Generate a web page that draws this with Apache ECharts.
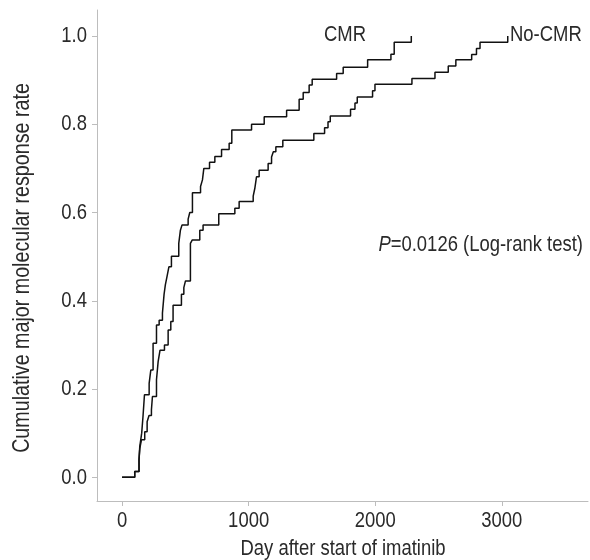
<!DOCTYPE html>
<html>
<head>
<meta charset="utf-8">
<script src="https://cdn.jsdelivr.net/npm/echarts@6/dist/echarts.min.js"></script>
<style>
html,body{margin:0;padding:0;background:#fff;}
#chart{width:590px;height:560px;}
</style>
</head>
<body>
<div id="chart"></div>
<script>
// Kaplan-Meier style cumulative response, step points (day, rate)
var cmrDays  = [0,100,134,140,150,155,166,177,214,227,245,272,293,319,332,342,355,370,390,448,461,474,522,535,556,620,635,646,691,733,786,846,867,1023,1123,1300,1399,1431,1478,1502,1695,1747,1940,2124,2150,2285];
var cmrRate  = [0,0.013,0.04,0.07,0.09,0.10,0.14,0.187,0.213,0.243,0.304,0.345,0.356,0.372,0.415,0.436,0.455,0.477,0.501,0.530,0.560,0.572,0.585,0.600,0.645,0.659,0.674,0.700,0.714,0.727,0.743,0.757,0.787,0.800,0.817,0.832,0.857,0.872,0.889,0.902,0.915,0.929,0.946,0.959,0.986,1.0];
var nocmrDays = [0,100,134,140,153,179,198,213,232,240,272,285,300,335,364,385,403,469,488,501,540,555,614,640,764,891,925,1036,1049,1062,1083,1154,1181,1195,1215,1270,1515,1600,1627,1645,1805,1840,1858,1979,1998,2290,2472,2577,2637,2762,2800,2828,3047];
var nocmrRate = [0,0.013,0.04,0.065,0.085,0.103,0.126,0.14,0.153,0.183,0.221,0.262,0.288,0.30,0.334,0.353,0.39,0.415,0.43,0.445,0.53,0.538,0.56,0.572,0.597,0.61,0.625,0.637,0.655,0.681,0.696,0.711,0.726,0.738,0.749,0.764,0.779,0.792,0.806,0.819,0.834,0.848,0.862,0.876,0.891,0.904,0.918,0.932,0.946,0.958,0.972,0.986,1.0];
var xTicks = [0,1000,2000,3000];
var yTicks = [0,0.2,0.4,0.6,0.8,1.0];
var xTitle = 'Day after start of imatinib';
var yTitle = 'Cumulative major molecular response rate';
var seriesNames = ['CMR','No-CMR'];
var pText = '=0.0126 (Log-rank test)';

function pairs(xs, ys){ return xs.map(function(x,i){ return [x, ys[i]]; }); }

// Pick a narrow (Helvetica-Condensed-like) face; otherwise squeeze Liberation Sans.
function hasFont(f){
  var c = document.createElement('canvas').getContext('2d');
  var s = 'abcdefghijklmnopqrstuvwxyz0123456789';
  c.font = '40px monospace'; var a = c.measureText(s).width;
  c.font = '40px "' + f + '", monospace'; var b = c.measureText(s).width;
  return Math.abs(a - b) > 0.5;
}
var narrow = hasFont('Liberation Sans Narrow');
var FONT = narrow ? '"Liberation Sans Narrow"' : '"Liberation Sans", Arial, sans-serif';
var SX = narrow ? 1 : 0.82;
var FS = 22.5;
var axisGrey = '#bdbdbd';
var textCol = '#2a2a2a';

var chart = echarts.init(document.getElementById('chart'), null, {renderer:'canvas'});
var baseOption = {
  animation:false,
  backgroundColor:'#fff',
  grid:{left:97, top:10, right:2, bottom:59, containLabel:false},
  xAxis:{
    type:'value', min:-198, max:3681,
    axisLine:{show:true, onZero:false, lineStyle:{color:axisGrey, width:1}},
    axisTick:{show:true, length:5, lineStyle:{color:axisGrey}, customValues:xTicks},
    axisLabel:{show:false},
    splitLine:{show:false}
  },
  yAxis:{
    type:'value', min:-0.0537, max:1.059,
    axisLine:{show:true, onZero:false, lineStyle:{color:axisGrey, width:1}},
    axisTick:{show:true, length:5, lineStyle:{color:axisGrey}, customValues:yTicks},
    axisLabel:{show:false},
    splitLine:{show:false}
  },
  series:[
    {name:seriesNames[0], type:'line', step:'end', data:pairs(cmrDays,cmrRate), showSymbol:false,
     lineStyle:{color:'#111', width:1.5}},
    {name:seriesNames[1], type:'line', step:'end', data:pairs(nocmrDays,nocmrRate), showSymbol:false,
     lineStyle:{color:'#111', width:1.5}}
  ]
};
chart.setOption(baseOption);

function txt(text, x, y, align, vAlign, size){
  return {type:'text', x:x, y:y, scaleX:SX, scaleY:1, silent:true,
    style:{text:text, font:(size||FS)+'px '+FONT, fill:textCol, textAlign:align, textVerticalAlign:vAlign}};
}
var g = [];
// tick labels placed through the axes' own scales
xTicks.forEach(function(v){
  var p = chart.convertToPixel({xAxisIndex:0}, v);
  g.push(txt(String(v), p, 521, 'center', 'middle'));
});
yTicks.forEach(function(v){
  var p = chart.convertToPixel({yAxisIndex:0}, v);
  g.push(txt(v.toFixed(1), 87, p, 'right', 'middle'));
});
// axis titles
g.push(txt(xTitle, 343, 549, 'center', 'middle'));
var yt = txt(yTitle, 22, 268, 'center', 'middle', 24);
yt.rotation = Math.PI/2;
g.push(yt);
// curve labels and test result
g.push(txt(seriesNames[0], 345, 34.5, 'center', 'middle'));
g.push(txt(seriesNames[1], 510, 34.5, 'left', 'middle'));
g.push({type:'text', x:583, y:245, scaleX:SX, silent:true,
  style:{text:'{i|P}{n|'+pText+'}', textAlign:'right', textVerticalAlign:'middle',
    rich:{i:{font:'italic '+FS+'px '+FONT, fill:textCol}, n:{font:FS+'px '+FONT, fill:textCol}}}});
chart.setOption({graphic:g});
</script>
</body>
</html>
